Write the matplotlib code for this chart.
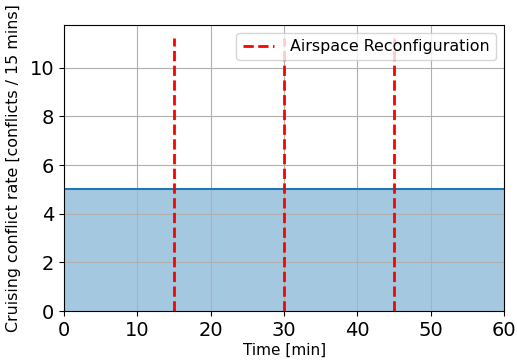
import matplotlib
matplotlib.use("Agg")
import matplotlib.pyplot as plt
import numpy as np

time_min = [0, 60]
conflict_rate = [5, 5]
reconfig_times = [15, 30, 45]
reconfig_top = 11.2

fig, ax = plt.subplots(figsize=(5.17, 3.6), dpi=100)
fig.subplots_adjust(left=0.124, right=0.975, top=0.931, bottom=0.136)

ax.plot(time_min, conflict_rate, color="C0", lw=1.5)
ax.fill_between(time_min, 0, conflict_rate, color="C0", alpha=0.4, lw=0)
ax.vlines(reconfig_times, 0, reconfig_top, colors="red", linestyles="--", lw=2,
          label="Airspace Reconfiguration")
ax.set_xlim(0, 60)
ax.set_ylim(bottom=0)
ax.grid(True)
ax.set_xlabel("Time [min]", fontsize=11, labelpad=2)
ax.set_ylabel("Cruising conflict rate [conflicts / 15 mins]", fontsize=11.4, labelpad=6)
ax.tick_params(labelsize=14)
ax.legend(loc="upper right", fontsize=11.4, handletextpad=1.0)

fig.savefig("out.png", dpi=100)
